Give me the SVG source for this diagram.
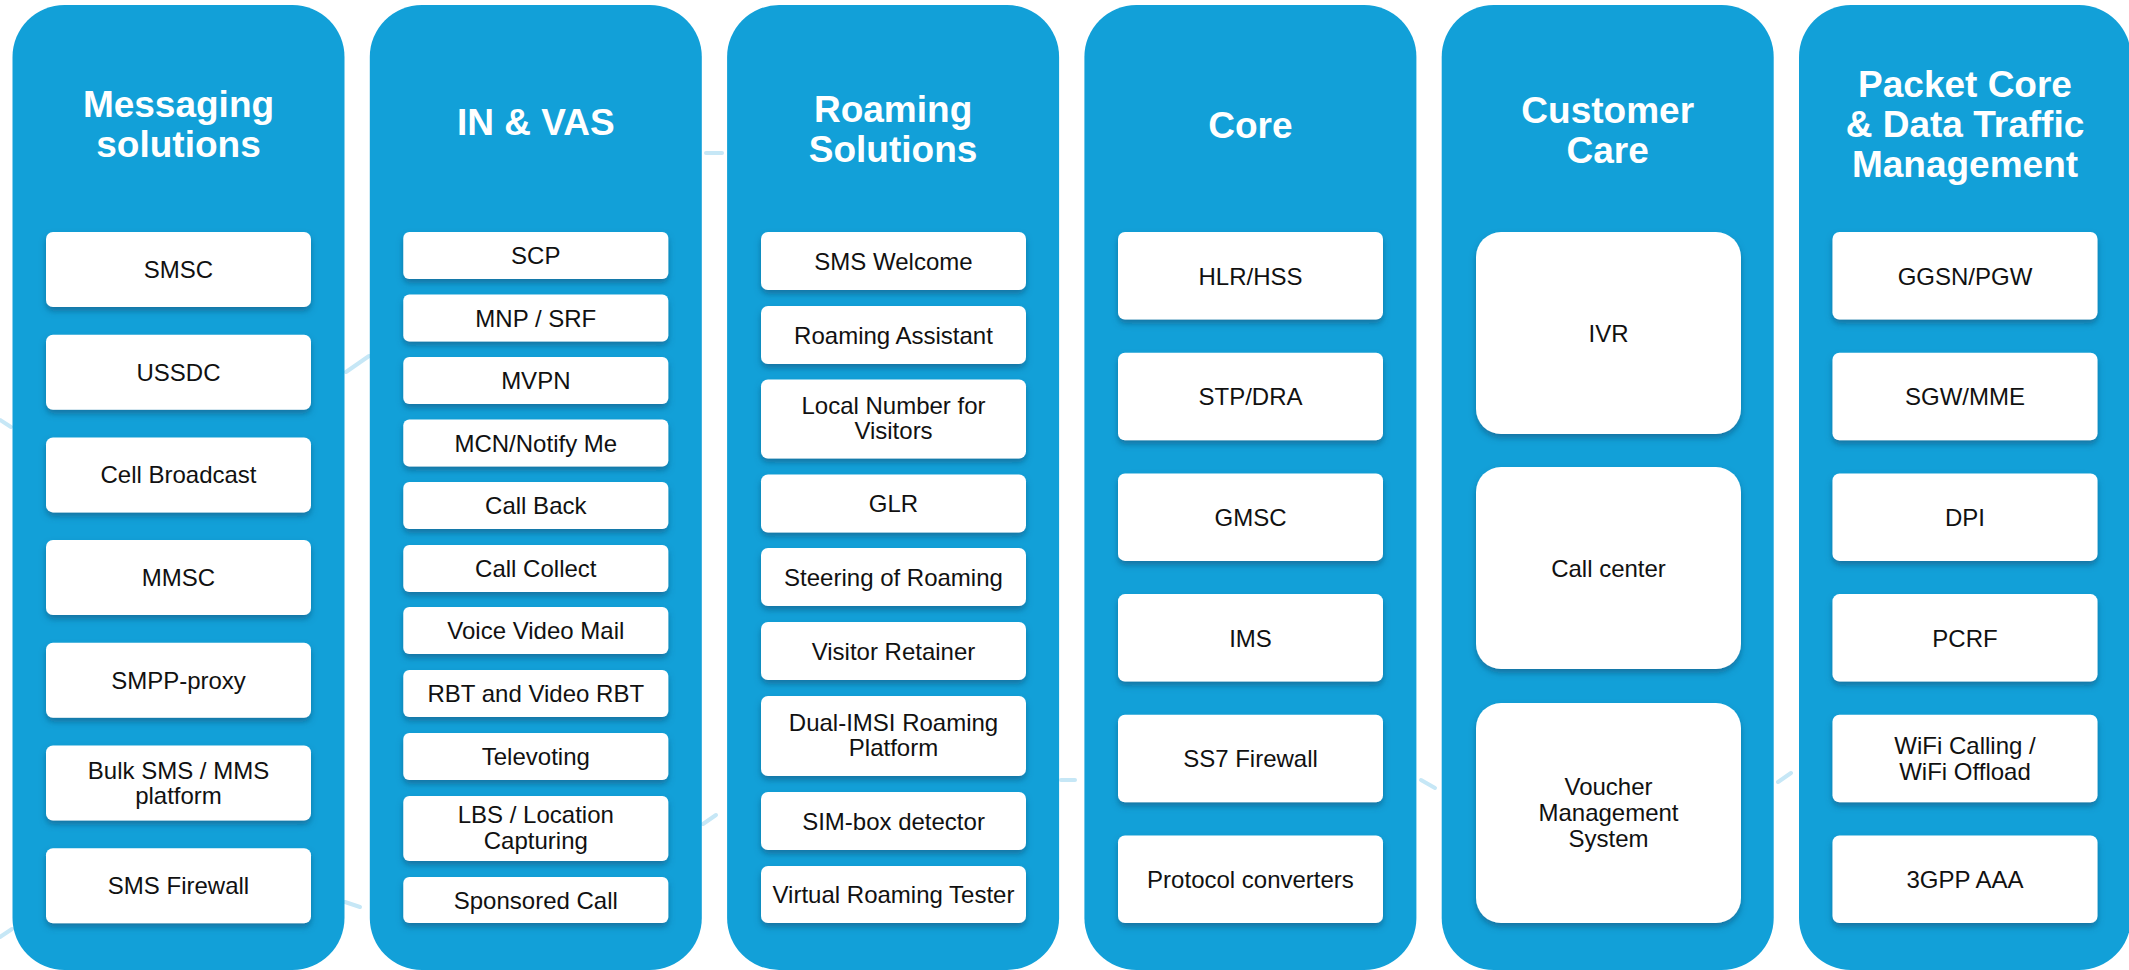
<svg xmlns="http://www.w3.org/2000/svg" width="2129" height="970" viewBox="0 0 2129 970">
<defs>
<filter id="sh" x="-10%" y="-20%" width="120%" height="150%">
<feDropShadow dx="0" dy="4" stdDeviation="3" flood-color="#0a4f75" flood-opacity="0.55"/>
</filter>
</defs>
<style>
.col{fill:#12A0D8}
.box{fill:#ffffff;filter:url(#sh)}
.t{font-family:"Liberation Sans",Arial,sans-serif;font-weight:bold;font-size:37px;fill:#ffffff;text-anchor:middle}
.b{font-family:"Liberation Sans",Arial,sans-serif;font-size:24px;fill:#111111;text-anchor:middle}
.bg{stroke:#c6e7f6;stroke-width:4;stroke-linecap:round;fill:none}
</style>
<rect width="2129" height="970" fill="#ffffff"/>
<g id="background">
<line class="bg" x1="346" y1="372" x2="369" y2="356"/>
<line class="bg" x1="345" y1="902" x2="360" y2="907"/>
<line class="bg" x1="706" y1="153" x2="722" y2="153"/>
<line class="bg" x1="703" y1="824" x2="716" y2="815"/>
<line class="bg" x1="1061" y1="780" x2="1075" y2="780"/>
<line class="bg" x1="1421" y1="780" x2="1435" y2="788"/>
<line class="bg" x1="1778" y1="782" x2="1791" y2="773"/>
<line class="bg" x1="0" y1="420" x2="11" y2="427"/>
<line class="bg" x1="0" y1="937" x2="12" y2="929"/>
</g>
<g id="connectors"></g>

<g id="col-messaging">
<rect class="col" x="12.5" y="5" width="332" height="965" rx="52"/>
<text class="t" x="178.5" y="117">Messaging</text>
<text class="t" x="178.5" y="157">solutions</text>
<g id="n-smsc"><rect class="box" x="46" y="232" width="265" height="75" rx="7"/><text class="b" x="178.5" y="278">SMSC</text></g>
<g id="n-ussdc"><rect class="box" x="46" y="334.7" width="265" height="75" rx="7"/><text class="b" x="178.5" y="380.7">USSDC</text></g>
<g id="n-cb"><rect class="box" x="46" y="437.4" width="265" height="75" rx="7"/><text class="b" x="178.5" y="483.4">Cell Broadcast</text></g>
<g id="n-mmsc"><rect class="box" x="46" y="540" width="265" height="75" rx="7"/><text class="b" x="178.5" y="586">MMSC</text></g>
<g id="n-smpp"><rect class="box" x="46" y="642.8" width="265" height="75" rx="7"/><text class="b" x="178.5" y="688.8">SMPP-proxy</text></g>
<g id="n-bulk"><rect class="box" x="46" y="745.5" width="265" height="75" rx="7"/><text class="b" x="178.5" y="778.5">Bulk SMS / MMS</text><text class="b" x="178.5" y="804">platform</text></g>
<g id="n-smsfw"><rect class="box" x="46" y="848.2" width="265" height="75" rx="7"/><text class="b" x="178.5" y="894.2">SMS Firewall</text></g>
</g>

<g id="col-invas">
<rect class="col" x="369.8" y="5" width="332" height="965" rx="52"/>
<text class="t" x="535.8" y="135">IN &amp; VAS</text>
<g id="n-scp"><rect class="box" x="403.3" y="232" width="265" height="47" rx="6"/><text class="b" x="535.8" y="264">SCP</text></g>
<g id="n-mnp"><rect class="box" x="403.3" y="294.5" width="265" height="47" rx="6"/><text class="b" x="535.8" y="326.5">MNP / SRF</text></g>
<g id="n-mvpn"><rect class="box" x="403.3" y="357" width="265" height="47" rx="6"/><text class="b" x="535.8" y="389">MVPN</text></g>
<g id="n-mcn"><rect class="box" x="403.3" y="419.5" width="265" height="47" rx="6"/><text class="b" x="535.8" y="451.5">MCN/Notify Me</text></g>
<g id="n-callback"><rect class="box" x="403.3" y="482" width="265" height="47" rx="6"/><text class="b" x="535.8" y="514">Call Back</text></g>
<g id="n-callcollect"><rect class="box" x="403.3" y="545" width="265" height="47" rx="6"/><text class="b" x="535.8" y="577">Call Collect</text></g>
<g id="n-vvm"><rect class="box" x="403.3" y="607" width="265" height="47" rx="6"/><text class="b" x="535.8" y="639">Voice Video Mail</text></g>
<g id="n-rbt"><rect class="box" x="403.3" y="670" width="265" height="47" rx="6"/><text class="b" x="535.8" y="702">RBT and Video RBT</text></g>
<g id="n-tv"><rect class="box" x="403.3" y="733" width="265" height="47" rx="6"/><text class="b" x="535.8" y="765">Televoting</text></g>
<g id="n-lbs"><rect class="box" x="403.3" y="796" width="265" height="65" rx="6"/><text class="b" x="535.8" y="823">LBS / Location</text><text class="b" x="535.8" y="848.5">Capturing</text></g>
<g id="n-sponsored"><rect class="box" x="403.3" y="877" width="265" height="46" rx="6"/><text class="b" x="535.8" y="908.5">Sponsored Call</text></g>
</g>

<g id="col-roaming">
<rect class="col" x="727.1" y="5" width="332" height="965" rx="52"/>
<text class="t" x="893.1" y="122">Roaming</text>
<text class="t" x="893.1" y="162">Solutions</text>
<g id="n-welcome"><rect class="box" x="761" y="232" width="265" height="58" rx="7"/><text class="b" x="893.5" y="269.5">SMS Welcome</text></g>
<g id="n-assistant"><rect class="box" x="761" y="306" width="265" height="58" rx="7"/><text class="b" x="893.5" y="343.5">Roaming Assistant</text></g>
<g id="n-localnum"><rect class="box" x="761" y="379.5" width="265" height="79" rx="7"/><text class="b" x="893.5" y="413.5">Local Number for</text><text class="b" x="893.5" y="438.5">Visitors</text></g>
<g id="n-glr"><rect class="box" x="761" y="474.5" width="265" height="58" rx="7"/><text class="b" x="893.5" y="512">GLR</text></g>
<g id="n-steering"><rect class="box" x="761" y="548" width="265" height="58" rx="7"/><text class="b" x="893.5" y="585.5">Steering of Roaming</text></g>
<g id="n-retainer"><rect class="box" x="761" y="622" width="265" height="58" rx="7"/><text class="b" x="893.5" y="659.5">Visitor Retainer</text></g>
<g id="n-dualimsi"><rect class="box" x="761" y="696" width="265" height="80" rx="7"/><text class="b" x="893.5" y="731">Dual-IMSI Roaming</text><text class="b" x="893.5" y="756">Platform</text></g>
<g id="n-simbox"><rect class="box" x="761" y="792" width="265" height="58" rx="7"/><text class="b" x="893.5" y="829.5">SIM-box detector</text></g>
<g id="n-vrt"><rect class="box" x="761" y="866" width="265" height="57" rx="7"/><text class="b" x="893.5" y="903">Virtual Roaming Tester</text></g>
</g>

<g id="col-core">
<rect class="col" x="1084.4" y="5" width="332" height="965" rx="52"/>
<text class="t" x="1250.4" y="138">Core</text>
<g id="n-hlr"><rect class="box" x="1118" y="232" width="265" height="87.5" rx="7"/><text class="b" x="1250.5" y="284.5">HLR/HSS</text></g>
<g id="n-stp"><rect class="box" x="1118" y="352.7" width="265" height="87.5" rx="7"/><text class="b" x="1250.5" y="405.2">STP/DRA</text></g>
<g id="n-gmsc"><rect class="box" x="1118" y="473.4" width="265" height="87.5" rx="7"/><text class="b" x="1250.5" y="525.9">GMSC</text></g>
<g id="n-ims"><rect class="box" x="1118" y="594.1" width="265" height="87.5" rx="7"/><text class="b" x="1250.5" y="646.6">IMS</text></g>
<g id="n-ss7"><rect class="box" x="1118" y="714.8" width="265" height="87.5" rx="7"/><text class="b" x="1250.5" y="767.3">SS7 Firewall</text></g>
<g id="n-proto"><rect class="box" x="1118" y="835.5" width="265" height="87.5" rx="7"/><text class="b" x="1250.5" y="888">Protocol converters</text></g>
</g>

<g id="col-care">
<rect class="col" x="1441.7" y="5" width="332" height="965" rx="52"/>
<text class="t" x="1607.7" y="123">Customer</text>
<text class="t" x="1607.7" y="163">Care</text>
<g id="n-ivr"><rect class="box" x="1476" y="232" width="265" height="202" rx="25"/><text class="b" x="1608.5" y="341.5">IVR</text></g>
<g id="n-callcenter"><rect class="box" x="1476" y="467" width="265" height="202" rx="25"/><text class="b" x="1608.5" y="576.5">Call center</text></g>
<g id="n-voucher"><rect class="box" x="1476" y="703" width="265" height="220" rx="25"/><text class="b" x="1608.5" y="795">Voucher</text><text class="b" x="1608.5" y="821">Management</text><text class="b" x="1608.5" y="847">System</text></g>
</g>

<g id="col-packet">
<rect class="col" x="1799" y="5" width="332" height="965" rx="52"/>
<text class="t" x="1965" y="97">Packet Core</text>
<text class="t" x="1965" y="137">&amp; Data Traffic</text>
<text class="t" x="1965" y="177">Management</text>
<g id="n-ggsn"><rect class="box" x="1832.5" y="232" width="265" height="87.5" rx="7"/><text class="b" x="1965" y="284.5">GGSN/PGW</text></g>
<g id="n-sgw"><rect class="box" x="1832.5" y="352.7" width="265" height="87.5" rx="7"/><text class="b" x="1965" y="405.2">SGW/MME</text></g>
<g id="n-dpi"><rect class="box" x="1832.5" y="473.4" width="265" height="87.5" rx="7"/><text class="b" x="1965" y="525.9">DPI</text></g>
<g id="n-pcrf"><rect class="box" x="1832.5" y="594.1" width="265" height="87.5" rx="7"/><text class="b" x="1965" y="646.6">PCRF</text></g>
<g id="n-wifi"><rect class="box" x="1832.5" y="714.8" width="265" height="87.5" rx="7"/><text class="b" x="1965" y="754">WiFi Calling /</text><text class="b" x="1965" y="780">WiFi Offload</text></g>
<g id="n-aaa"><rect class="box" x="1832.5" y="835.5" width="265" height="87.5" rx="7"/><text class="b" x="1965" y="888">3GPP AAA</text></g>
</g>
</svg>
